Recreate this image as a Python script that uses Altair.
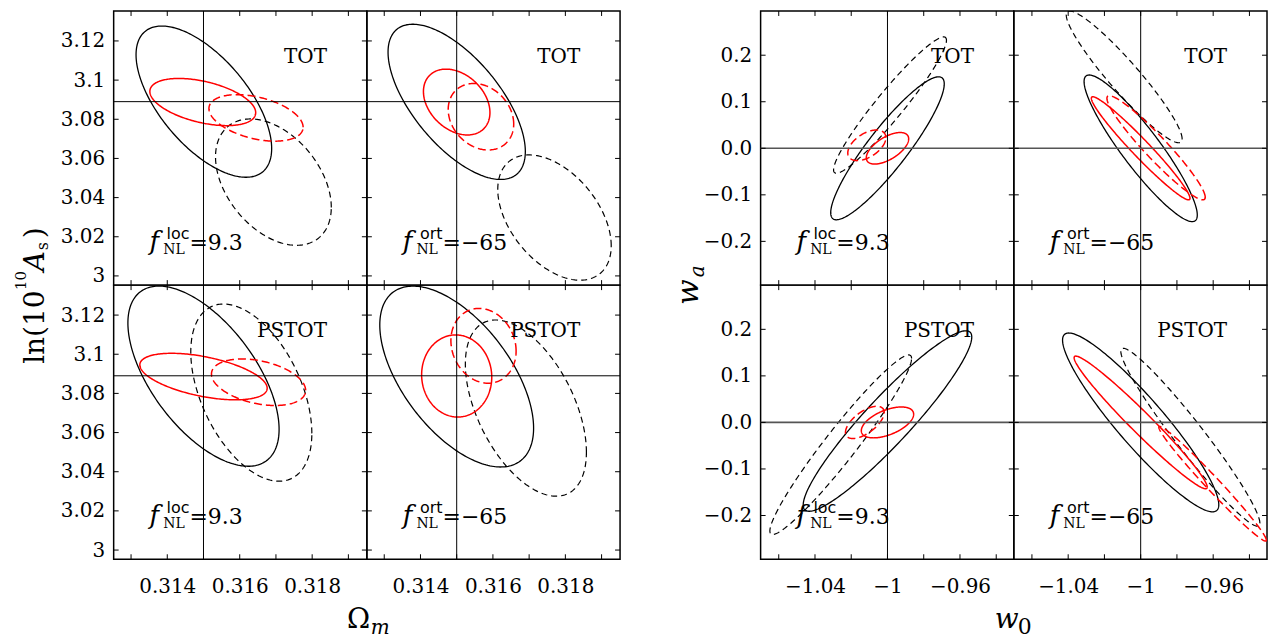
import altair as alt
import numpy as np
import pandas as pd

# ------------------------------------------------------------------ data
STYLES = ["black_solid", "black_dashed", "red_solid", "red_dashed"]
PANEL_NAMES = ["TOT", "TOT", "PSTOT", "PSTOT"]
FNL_TYPE = ["loc", "ort", "loc", "ort"]
FNL_VALUE = ["=9.3", "=\u221265", "=9.3", "=\u221265"]

# Omega_m vs ln(10^10 A_s): rows = panels (TOT/loc, TOT/ort, PSTOT/loc, PSTOT/ort),
# columns = STYLES; centre, 1-sigma widths, correlation
OM_CX = [[0.31501, 0.31693, 0.31498, 0.31645],
         [0.31500, 0.31770, 0.31500, 0.31567],
         [0.31500, 0.31632, 0.31500, 0.31652],
         [0.31500, 0.31691, 0.31500, 0.31574]]
AS_CY = [[3.0890, 3.0479, 3.0888, 3.0807],
         [3.0889, 3.0298, 3.0888, 3.0813],
         [3.0888, 3.0804, 3.0886, 3.0857],
         [3.0886, 3.0725, 3.0889, 3.1043]]
OM_SX = [[0.001872, 0.001598, 0.001461, 0.00130],
         [0.001895, 0.001566, 0.000918, 0.000904],
         [0.002087, 0.001671, 0.001758, 0.00130],
         [0.002123, 0.001671, 0.000968, 0.00090]]
AS_SY = [[0.03862, 0.03226, 0.01205, 0.01188],
         [0.03964, 0.03200, 0.01681, 0.01698],
         [0.04601, 0.04525, 0.01188, 0.01188],
         [0.04618, 0.04500, 0.02097, 0.01910]]
OM_RHO = [[-0.62, -0.40, -0.45, -0.40],
          [-0.64, -0.45, -0.32, -0.22],
          [-0.59, -0.46, -0.50, -0.35],
          [-0.57, -0.50, -0.03, -0.14]]

# w0 vs wa
W0_CX = [[-1.0000, -0.9986, -1.0000, -1.0114],
         [-1.0000, -1.0091, -1.0000, -0.9915],
         [-1.0000, -1.0258, -1.0000, -1.0125],
         [-1.0000, -0.9726, -1.0000, -0.9603]]
WA_CY = [[0.000, 0.0929, 0.000, 0.0064],
         [0.000, 0.1534, 0.000, 0.0011],
         [0.003, -0.0479, 0.000, 0.000],
         [0.000, -0.0318, 0.000, -0.1318]]
W0_SX = [[0.03132, 0.03114, 0.01169, 0.01050],
         [0.03123, 0.03196, 0.02721, 0.02712],
         [0.04650, 0.03909, 0.01443, 0.01068],
         [0.04310, 0.03836, 0.03671, 0.02968]]
WA_SY = [[0.1536, 0.1464, 0.0339, 0.03286],
         [0.1575, 0.1415, 0.1107, 0.1118],
         [0.1939, 0.1929, 0.0332, 0.03464],
         [0.1921, 0.1911, 0.1425, 0.1232]]
W_RHO = [[0.90, 0.95, 0.60, 0.50],
         [-0.91, -0.94, -0.97, -0.95],
         [0.93, 0.96, 0.53, 0.62],
         [-0.92, -0.965, -0.975, -0.985]]

OM_FID, AS_FID, W0_FID, WA_FID = 0.315, 3.089, -1.0, 0.0

OM_TICKS = [0.313, 0.314, 0.315, 0.316, 0.317, 0.318, 0.319]
OM_LABELS = [0.314, 0.316, 0.318]
AS_TICKS = [3.0, 3.02, 3.04, 3.06, 3.08, 3.1, 3.12]
W0_TICKS = [-1.06, -1.04, -1.02, -1.0, -0.98, -0.96, -0.94]
W0_LABELS = [-1.04, -1.0, -0.96]
WA_TICKS = [-0.2, -0.1, 0.0, 0.1, 0.2]

# ------------------------------------------------------------------ styling
W, H = 254, 275
GAP = 141
TICK = 5
SERIF = "DejaVu Serif"
SANS = "DejaVu Sans"
LINE_STYLE = {
    "black_solid": dict(color="black", strokeWidth=1.3),
    "black_dashed": dict(color="black", strokeWidth=1.2, strokeDash=[6, 4]),
    "red_solid": dict(color="#ff0000", strokeWidth=1.5),
    "red_dashed": dict(color="#ff0000", strokeWidth=1.5, strokeDash=[8, 4]),
}

GROUPS = {
    "om": dict(cx=OM_CX, cy=AS_CY, sx=OM_SX, sy=AS_SY, rho=OM_RHO,
               xdom=[0.31252, 0.31951], ydom=[2.9953, 3.1353],
               xticks=OM_TICKS, xlabels=OM_LABELS, yticks=AS_TICKS, ylabels=AS_TICKS,
               xfmt="~g", yfmt="~g", xfid=OM_FID, yfid=AS_FID, hcolor="black", hwidth=1.0),
    "w": dict(cx=W0_CX, cy=WA_CY, sx=W0_SX, sy=WA_SY, rho=W_RHO,
              xdom=[-1.0700, -0.9303], ydom=[-0.294, 0.295],
              xticks=W0_TICKS, xlabels=W0_LABELS, yticks=WA_TICKS, ylabels=WA_TICKS,
              xfmt="~g", yfmt=".1f", xfid=W0_FID, yfid=WA_FID, hcolor="#555555", hwidth=1.6),
}

T = np.linspace(0.0, 2.0 * np.pi, 241)


def ellipse_frame(G, p):
    frames = []
    for k, st in enumerate(STYLES):
        cx, cy = G["cx"][p][k], G["cy"][p][k]
        sx, sy, r = G["sx"][p][k], G["sy"][p][k], G["rho"][p][k]
        xs = cx + sx * np.cos(T)
        ys = cy + sy * (r * np.cos(T) + np.sqrt(1.0 - r * r) * np.sin(T))
        frames.append(pd.DataFrame({"x": xs, "y": ys, "style": st, "i": np.arange(len(T))}))
    return pd.concat(frames, ignore_index=True)


def text_layer(txt, x, y, font, size, style="normal", align="left", angle=0, color="black"):
    kw = dict(font=font, fontSize=size, fontStyle=style, align=align,
              baseline="alphabetic", color=color)
    if angle:
        kw["angle"] = angle
    return alt.Chart(pd.DataFrame({"t": [txt]})).mark_text(**kw).encode(
        text="t:N", x=alt.value(x), y=alt.value(y))


def make_panel(g, p, show_x, show_y, extra):
    G = GROUPS[g]
    if show_x:
        xax = alt.Axis(values=G["xlabels"], format=G["xfmt"], ticks=False, domain=False,
                       grid=False, labelFont=SERIF, labelFontSize=20, labelColor="black",
                       labelPadding=17, labelFlush=False, labelOverlap=False, title=None)
    else:
        xax = None
    if show_y:
        yax = alt.Axis(values=G["ylabels"], format=G["yfmt"], ticks=False, domain=False,
                       grid=False, labelFont=SERIF, labelFontSize=20, labelColor="black",
                       labelPadding=9, labelFlush=False, labelOverlap=False, title=None)
    else:
        yax = None
    xs = alt.Scale(domain=G["xdom"], nice=False, zero=False)
    ys = alt.Scale(domain=G["ydom"], nice=False, zero=False)

    def X(f):
        return alt.X(f, type="quantitative", scale=xs, axis=xax)

    def Y(f):
        return alt.Y(f, type="quantitative", scale=ys, axis=yax)

    df = ellipse_frame(G, p)
    layers = []
    for st in STYLES:
        layers.append(alt.Chart(df[df["style"] == st]).mark_line(clip=True, **LINE_STYLE[st]).encode(
            x=X("x"), y=Y("y"), order=alt.Order("i:Q")))

    # fiducial cross-hair
    layers.append(alt.Chart(pd.DataFrame({"x": [G["xfid"]]})).mark_rule(
        color="black", strokeWidth=1.0).encode(x=X("x")))
    layers.append(alt.Chart(pd.DataFrame({"y": [G["yfid"]]})).mark_rule(
        color=G["hcolor"], strokeWidth=G["hwidth"]).encode(y=Y("y")))

    # inward ticks on all four sides
    xt = pd.DataFrame({"x": G["xticks"]})
    yt = pd.DataFrame({"y": G["yticks"]})
    layers.append(alt.Chart(xt).mark_rule(color="black", strokeWidth=1).encode(
        x=X("x"), y=alt.value(H), y2=alt.value(H - TICK)))
    layers.append(alt.Chart(xt).mark_rule(color="black", strokeWidth=1).encode(
        x=X("x"), y=alt.value(0), y2=alt.value(TICK)))
    layers.append(alt.Chart(yt).mark_rule(color="black", strokeWidth=1).encode(
        y=Y("y"), x=alt.value(0), x2=alt.value(TICK)))
    layers.append(alt.Chart(yt).mark_rule(color="black", strokeWidth=1).encode(
        y=Y("y"), x=alt.value(W), x2=alt.value(W - TICK)))

    # panel annotations
    layers.append(text_layer(PANEL_NAMES[p], 214, 51.7, SERIF, 20, align="right"))
    layers.append(text_layer("f", 36, 239.3, SERIF, 26, style="italic"))
    layers.append(text_layer("NL", 49.7, 243.3, SERIF, 14))
    layers.append(text_layer(FNL_TYPE[p], 76, 228.3, SANS, 16, align="right"))
    layers.append(text_layer(FNL_VALUE[p], 76, 239.3, SERIF, 22))

    layers.extend(extra)
    return alt.layer(*layers).properties(width=W, height=H)


def spacer():
    return alt.Chart(pd.DataFrame({"t": [" "]})).mark_text(fontSize=1).encode(
        text="t:N", x=alt.value(GAP / 2), y=alt.value(H / 2)
    ).properties(width=GAP, height=H, view=alt.ViewBackground(strokeOpacity=0))


# axis titles (composite, with sub/superscripts)
ln_title = [
    text_layer("ln(10", -70, 354, SERIF, 28, angle=270),
    text_layer("10", -88, 280, SERIF, 15, angle=270),
    text_layer("A", -70, 261, SERIF, 28, style="italic", angle=270),
    text_layer("s", -66, 240, SERIF, 16, angle=270),
    text_layer(")", -70, 228, SERIF, 28, angle=270),
]
wa_title = [
    text_layer("w", -63, 295, SERIF, 30, style="italic", angle=270),
    text_layer("a", -57, 267, SERIF, 20, style="italic", angle=270),
]
om_title = [
    text_layer("\u03a9", 234, 344, SERIF, 28),
    text_layer("m", 258, 350, SERIF, 20, style="italic"),
]
w0_title = [
    text_layer("w", 235, 344, SERIF, 28, style="italic"),
    text_layer("0", 258, 350, SERIF, 22),
]

cells = [
    make_panel("om", 0, False, True, ln_title), make_panel("om", 1, False, False, []),
    spacer(),
    make_panel("w", 0, False, True, wa_title), make_panel("w", 1, False, False, []),
    make_panel("om", 2, True, True, om_title), make_panel("om", 3, True, False, []),
    spacer(),
    make_panel("w", 2, True, True, w0_title), make_panel("w", 3, True, False, []),
]

chart = alt.concat(
    *cells, columns=5, spacing=0, bounds="flush",
    padding={"left": 5, "top": 0, "right": 0, "bottom": 0},
).configure_view(stroke="black", strokeWidth=1.5)

chart.save("out.html", embed_options={"renderer": "svg", "actions": False})
